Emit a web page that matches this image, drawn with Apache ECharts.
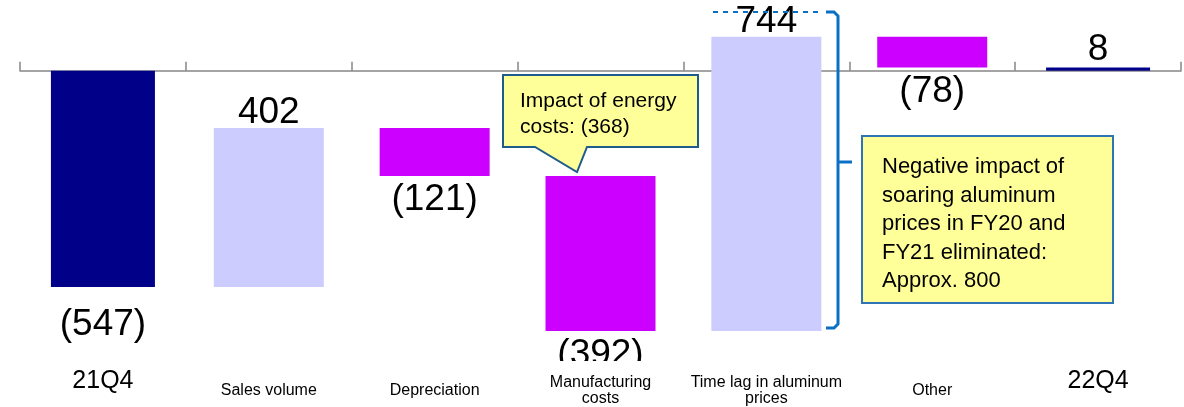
<!DOCTYPE html>
<html>
<head>
<meta charset="utf-8">
<script src="https://cdn.jsdelivr.net/npm/echarts@6/dist/echarts.min.js"></script>
<style>
  html, body { margin: 0; padding: 0; background: #fff; }
  #chart { width: 1184px; height: 407px; }
</style>
</head>
<body>
<div id="chart"></div>
<script>
// Quarterly profit bridge: 21Q4 -> 22Q4
const categories = ['21Q4', 'Sales volume', 'Depreciation', 'Manufacturing\ncosts', 'Time lag in aluminum\nprices', 'Other', '22Q4'];
const changes = [-547, 402, -121, -392, 744, -78, 8];
const kinds = ['total', 'delta', 'delta', 'delta', 'delta', 'delta', 'total'];

const FONT = '"Liberation Sans", Arial, sans-serif';
const colors = { total: '#000088', up: '#CCCCFF', down: '#CC00FF' };

// build [index, start, end, change] rows from the running sum
const rows = [];
let running = 0;
changes.forEach((v, i) => {
  if (kinds[i] === 'total') {
    rows.push([i, 0, v, v]);
    running = v;
  } else {
    rows.push([i, running, running + v, v]);
    running += v;
  }
});

function fmt(v) { return v < 0 ? '(' + Math.abs(v) + ')' : String(v); }

function renderItem(params, api) {
  const i = api.value(0), start = api.value(1), end = api.value(2), delta = api.value(3);
  const kind = kinds[i];
  const p0 = api.coord([i, start]);
  const p1 = api.coord([i, end]);
  const w = kind === 'total' ? 104 : 110;
  const top = Math.min(p0[1], p1[1]);
  const h = Math.max(Math.abs(p1[1] - p0[1]), 1);
  const up = delta >= 0;
  const fill = kind === 'total' ? colors.total : (up ? colors.up : colors.down);
  const off = kind === 'total' ? (up ? 18 : 38) : (up ? 15 : 24);
  const ly = up ? top - off : top + h + off;
  return {
    type: 'group',
    children: [
      { type: 'rect', shape: { x: p0[0] - w / 2, y: top, width: w, height: h }, style: { fill: fill } },
      { type: 'text', z2: 5, style: { text: fmt(delta), x: p0[0], y: ly, textAlign: 'center', textVerticalAlign: 'middle',
        fontSize: 37, fontFamily: FONT, fill: '#000' } }
    ]
  };
}

const chart = echarts.init(document.getElementById('chart'), null, { renderer: 'canvas' });

const axisGray = '#868686';
const BLUE = '#0A70C4';

chart.setOption({
  animation: false,
  backgroundColor: '#ffffff',
  grid: { left: 20, right: 3, top: 0, bottom: 45 },
  xAxis: [
    {
      type: 'category', data: categories,
      axisLine: { onZero: true, lineStyle: { color: axisGray, width: 1.5 } },
      axisTick: { show: true, inside: true, interval: 0, length: 9, lineStyle: { color: axisGray, width: 1.5 } },
      axisLabel: { show: false, interval: 0 },
      splitLine: { show: false }
    },
    {
      type: 'category', data: categories, position: 'bottom',
      axisLine: { show: false }, axisTick: { show: false }, splitLine: { show: false },
      axisLabel: {
        interval: 0, hideOverlap: false, margin: 30, verticalAlign: 'middle', color: '#000',
        formatter: function (v, idx) {
          if (kinds[idx] === 'total') return '{big|' + v + '}';
          return v.split('\n').map(s => '{s|' + s + '}').join('\n');
        },
        rich: {
          big: { fontSize: 25, fontFamily: FONT, color: '#000', padding: [0, 0, 20, 0] },
          s: { fontSize: 16, fontFamily: FONT, color: '#000', lineHeight: 16 }
        }
      }
    }
  ],
  yAxis: {
    type: 'value', min: -734, max: 179,
    axisLine: { show: false }, axisTick: { show: false }, axisLabel: { show: false }, splitLine: { show: false }
  },
  series: [{
    type: 'custom',
    xAxisIndex: 0,
    clip: true,
    renderItem: renderItem,
    encode: { x: 0, y: [1, 2] },
    data: rows
  }],
  graphic: [
    // energy-cost callout with pointer
    {
      type: 'polygon', z: 100,
      shape: { points: [[503, 75], [698, 75], [698, 147], [587, 147], [577, 172], [535, 147], [503, 147]] },
      style: { fill: '#FFFF99', stroke: '#1F5C8C', lineWidth: 2 }
    },
    {
      type: 'text', z: 101,
      style: { text: 'Impact of energy\ncosts: (368)', x: 520, y: 88, fontSize: 21, lineHeight: 26,
        fontFamily: FONT, fill: '#000', textVerticalAlign: 'top' }
    },
    // note box for the aluminium time lag
    {
      type: 'rect', z: 100,
      shape: { x: 862, y: 136, width: 251, height: 167 },
      style: { fill: '#FFFF99', stroke: '#2F75B5', lineWidth: 2 }
    },
    {
      type: 'text', z: 101,
      style: { text: 'Negative impact of\nsoaring aluminum\nprices in FY20 and\nFY21 eliminated:\nApprox. 800',
        x: 882, y: 153, fontSize: 22, lineHeight: 28.5, fontFamily: FONT, fill: '#000', textVerticalAlign: 'top' }
    },
    // bracket
    {
      type: 'polyline', z: 100,
      shape: { points: [[826, 12], [834, 12], [838, 16], [838, 324], [834, 328], [826, 328]] },
      style: { fill: null, stroke: BLUE, lineWidth: 3 }
    },
    {
      type: 'line', z: 100,
      shape: { x1: 838, y1: 162, x2: 852, y2: 162 },
      style: { stroke: BLUE, lineWidth: 3 }
    },
    // dashed level line
    {
      type: 'line', z: 100,
      shape: { x1: 713, y1: 12, x2: 822, y2: 12 },
      style: { stroke: BLUE, lineWidth: 2, lineDash: [5, 5] }
    }
  ]
});
</script>
</body>
</html>
